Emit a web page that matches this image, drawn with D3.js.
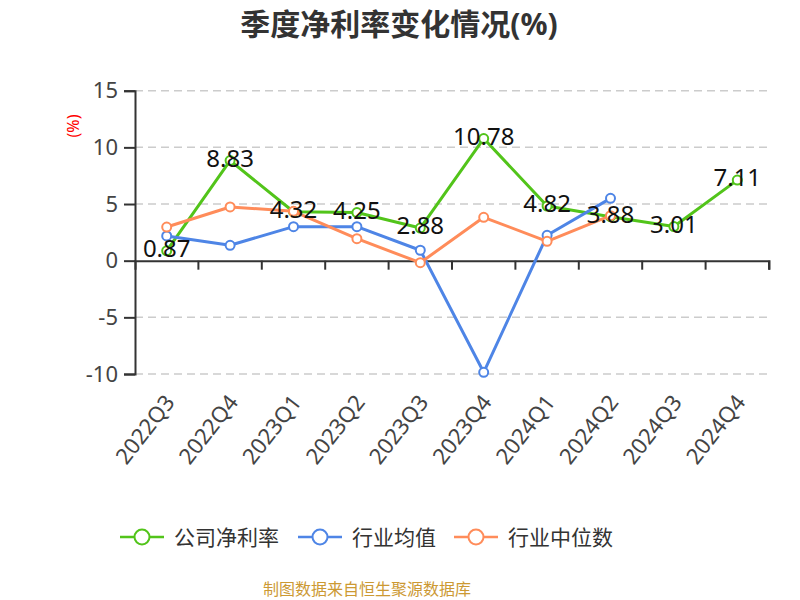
<!DOCTYPE html>
<html><head><meta charset="utf-8">
<script src="https://cdn.jsdelivr.net/npm/d3@7"></script>
<style>
body{margin:0;background:#fff;}
text{font-family:"Noto Sans","Noto Sans CJK SC",sans-serif;}
</style></head>
<body><svg id="c" width="800" height="600"></svg>
<script>
const categories = ["2022Q3","2022Q4","2023Q1","2023Q2","2023Q3","2023Q4","2024Q1","2024Q2","2024Q3","2024Q4"];
const companyNetMargin = [0.87, 8.83, 4.32, 4.25, 2.88, 10.78, 4.82, 3.88, 3.01, 7.11];
const industryMean = [2.18, 1.36, 3.0, 3.0, 0.92, -9.85, 2.24, 5.5, null, null];
const industryMedian = [2.97, 4.74, 4.36, 1.94, -0.18, 3.83, 1.71, 3.97, null, null];
const yTicks = [-10, -5, 0, 5, 10, 15];
const seriesNames = ["公司净利率", "行业均值", "行业中位数"];
const colors = ["#52c41a", "#4e85e6", "#ff8c5a"];

const svg = d3.select("#c");
const x = d3.scaleBand().domain(categories).range([135, 769]);
const y = d3.scaleLinear().domain([-10, 15]).range([374, 90.7]);
const cx = d => x(d) + x.bandwidth() / 2;

// title
svg.append("text").attr("x", 399).attr("y", 23).attr("text-anchor", "middle")
  .attr("dominant-baseline", "central").attr("font-size", 30).attr("font-weight", "bold")
  .attr("fill", "#333").text("季度净利率变化情况(%)");

// gridlines
svg.append("g").selectAll("line").data(yTicks.filter(t => t !== 0)).join("line")
  .attr("x1", 135).attr("x2", 769).attr("y1", d => y(d)).attr("y2", d => y(d))
  .attr("stroke", "#cccccc").attr("stroke-width", 1.5).attr("stroke-dasharray", "8,5");

// y axis
const yAxis = d3.axisLeft(y).tickValues(yTicks).tickSize(11).tickPadding(6).tickFormat(d => String(d));
const gy = svg.append("g").attr("transform", "translate(135,0)").call(yAxis);
gy.select(".domain").attr("stroke", "#333").attr("stroke-width", 2);
gy.selectAll(".tick line").attr("stroke", "#333").attr("stroke-width", 2);
gy.selectAll(".tick text").attr("font-size", 22).attr("fill", "#444")
  .attr("font-family", "'Noto Sans','Noto Sans CJK SC',sans-serif");

// y axis name
svg.append("text").attr("transform", "translate(73,126) rotate(-90)")
  .attr("text-anchor", "middle").attr("dominant-baseline", "central")
  .attr("font-size", 16).attr("fill", "#ff0000").text("(%)");

// x axis at zero
const xAxis = d3.axisBottom(x).tickSize(9).tickFormat("");
const gx = svg.append("g").attr("transform", `translate(0,${y(0)})`).call(xAxis);
gx.select(".domain").attr("stroke", "#333").attr("stroke-width", 2);
gx.selectAll(".tick").remove();
const bounds = categories.map(c => x(c) + x.bandwidth());
gx.selectAll("line.bt").data(bounds).join("line").attr("class", "bt")
  .attr("x1", d => d).attr("x2", d => d).attr("y1", 0).attr("y2", 9)
  .attr("stroke", "#333").attr("stroke-width", 2);

// x labels at bottom
svg.append("g").selectAll("text").data(categories).join("text")
  .attr("transform", d => `translate(${cx(d) + 2},${397}) rotate(-52)`)
  .attr("text-anchor", "end").attr("dominant-baseline", "central")
  .attr("font-size", 22).attr("fill", "#444").text(d => d);

// series
const allSeries = [companyNetMargin, industryMean, industryMedian];
const line = d3.line().defined(d => d.v !== null).x(d => cx(d.c)).y(d => y(d.v));
allSeries.forEach((vals, i) => {
  const pts = categories.map((c, j) => ({ c, v: vals[j] }));
  svg.append("path").datum(pts).attr("d", line).attr("fill", "none")
    .attr("stroke", colors[i]).attr("stroke-width", 3).attr("stroke-linejoin", "round");
  svg.append("g").selectAll("circle").data(pts.filter(p => p.v !== null)).join("circle")
    .attr("cx", p => cx(p.c)).attr("cy", p => y(p.v)).attr("r", 4.5)
    .attr("fill", "#fff").attr("stroke", colors[i]).attr("stroke-width", 2);
});

// data labels for company
svg.append("g").selectAll("text").data(categories.map((c, j) => ({ c, v: companyNetMargin[j] }))).join("text")
  .attr("x", p => cx(p.c)).attr("y", p => y(p.v) + 6)
  .attr("text-anchor", "middle").attr("font-size", 24).attr("fill", "#111")
  .text(p => p.v.toFixed(2));

// legend
const legendX = [120, 298, 454];
const lg = svg.append("g").selectAll("g").data(seriesNames).join("g")
  .attr("transform", (d, i) => `translate(${legendX[i]},537)`);
lg.append("line").attr("x1", 0).attr("x2", 44).attr("y1", 0).attr("y2", 0)
  .attr("stroke", (d, i) => colors[i]).attr("stroke-width", 2.5);
lg.append("circle").attr("cx", 22).attr("cy", 0).attr("r", 7.5).attr("fill", "#fff")
  .attr("stroke", (d, i) => colors[i]).attr("stroke-width", 2);
lg.append("text").attr("x", 54).attr("y", 0).attr("dominant-baseline", "central")
  .attr("font-size", 21).attr("fill", "#333").text(d => d);

// footer
svg.append("text").attr("x", 367).attr("y", 589).attr("text-anchor", "middle")
  .attr("dominant-baseline", "central").attr("font-size", 16).attr("fill", "#cc9933")
  .text("制图数据来自恒生聚源数据库");
</script></body></html>
